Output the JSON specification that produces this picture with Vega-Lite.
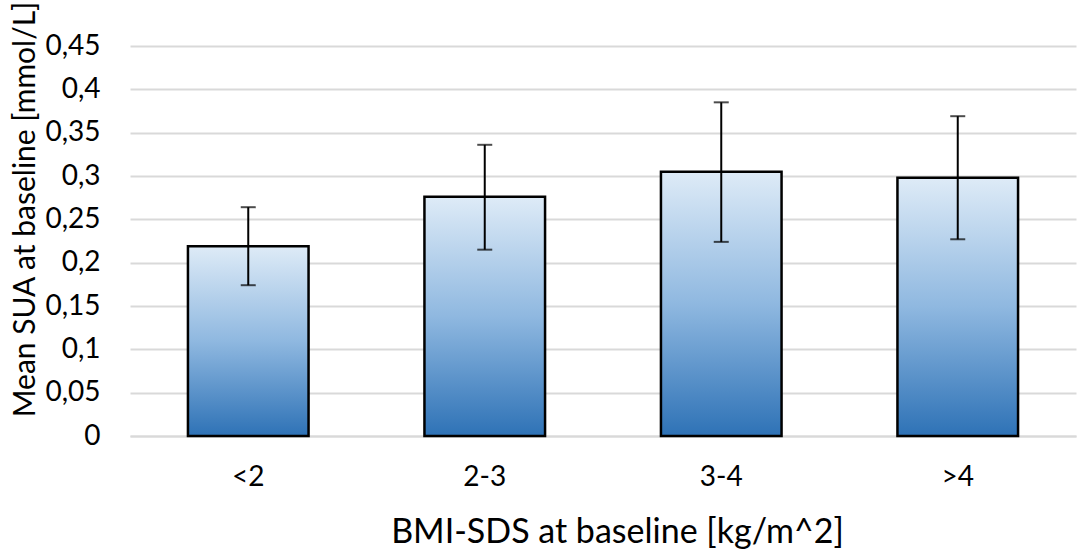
{
  "$schema": "https://vega.github.io/schema/vega-lite/v6.json",
  "width": 946,
  "height": 390,
  "autosize": "none",
  "padding": {"left": 130, "top": 46, "right": 8, "bottom": 117},
  "background": "white",
  "data": {
    "values": [
      {"group": "<2", "mean": 0.219, "lo": 0.174, "hi": 0.264},
      {"group": "2-3", "mean": 0.276, "lo": 0.215, "hi": 0.336},
      {"group": "3-4", "mean": 0.305, "lo": 0.224, "hi": 0.385},
      {"group": ">4", "mean": 0.298, "lo": 0.227, "hi": 0.369}
    ]
  },
  "encoding": {
    "x": {
      "field": "group",
      "type": "nominal",
      "sort": null,
      "scale": {"paddingInner": 0.49, "paddingOuter": 0.245},
      "axis": {
        "title": "BMI-SDS at baseline [kg/m^2]",
        "titleFont": "Lato",
        "titleFontSize": 34,
        "titleFontWeight": "normal",
        "titleColor": "#000000",
        "titleAlign": "center",
        "titleBaseline": "alphabetic",
        "titleX": 487,
        "titleY": 106,
        "labelFont": "Lato",
        "labelFontSize": 28,
        "labelColor": "#000000",
        "labelAngle": 0,
        "labelBaseline": "alphabetic",
        "labelPadding": 49,
        "ticks": false,
        "domainColor": "#d9d9d9",
        "domainWidth": 2
      }
    }
  },
  "layer": [
    {
      "mark": {
        "type": "bar",
        "stroke": "#000000",
        "strokeWidth": 2.5,
        "color": {
          "gradient": "linear",
          "x1": 0, "y1": 0, "x2": 0, "y2": 1,
          "stops": [
            {"offset": 0, "color": "#deebf7"},
            {"offset": 0.5, "color": "#8fb8e0"},
            {"offset": 1, "color": "#2e72b6"}
          ]
        }
      },
      "encoding": {
        "y": {
          "field": "mean",
          "type": "quantitative",
          "scale": {"domain": [0, 0.45], "nice": false},
          "axis": {
            "title": "Mean SUA at baseline [mmol/L]",
            "titleFont": "Lato",
            "titleFontSize": 30,
            "titleFontWeight": "normal",
            "titleColor": "#000000",
            "titleAngle": -90,
            "titleAlign": "center",
            "titleBaseline": "alphabetic",
            "titleX": -96,
            "titleY": 163,
            "labelFont": "Lato",
            "labelFontSize": 28,
            "labelColor": "#000000",
            "labelPadding": 30,
            "values": [0, 0.05, 0.1, 0.15, 0.2, 0.25, 0.3, 0.35, 0.4, 0.45],
            "labelExpr": "replace(format(datum.value, '.2~f'), '.', ',')",
            "ticks": false,
            "domain": false,
            "grid": true,
            "gridColor": "#d9d9d9",
            "gridWidth": 2
          }
        }
      }
    },
    {
      "mark": {"type": "rule", "color": "#000000", "strokeWidth": 2},
      "encoding": {
        "y": {"field": "lo", "type": "quantitative"},
        "y2": {"field": "hi"}
      }
    },
    {
      "mark": {"type": "tick", "color": "#000000", "size": 15, "thickness": 2},
      "encoding": {
        "y": {"field": "lo", "type": "quantitative"}
      }
    },
    {
      "mark": {"type": "tick", "color": "#000000", "size": 15, "thickness": 2},
      "encoding": {
        "y": {"field": "hi", "type": "quantitative"}
      }
    }
  ],
  "config": {
    "view": {"stroke": null}
  }
}
